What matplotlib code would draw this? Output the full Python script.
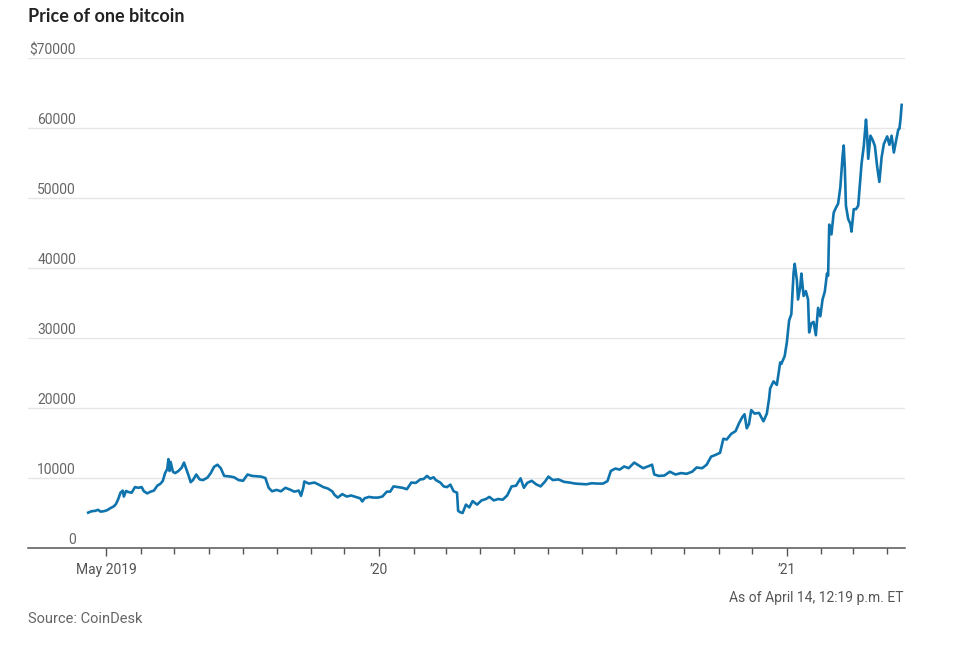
import matplotlib
matplotlib.use("Agg")
import matplotlib.pyplot as plt
import matplotlib.dates as mdates
import matplotlib.transforms as mtransforms
import numpy as np
import pandas as pd

dates = [
    "2019-04-15", "2019-04-18", "2019-04-21", "2019-04-24", "2019-04-26", "2019-04-29",
    "2019-05-02", "2019-05-05", "2019-05-08", "2019-05-10", "2019-05-12", "2019-05-14",
    "2019-05-16", "2019-05-17", "2019-05-19", "2019-05-21", "2019-05-24", "2019-05-27",
    "2019-05-30", "2019-06-02", "2019-06-04", "2019-06-07", "2019-06-10", "2019-06-13",
    "2019-06-16", "2019-06-19", "2019-06-21", "2019-06-23", "2019-06-25", "2019-06-26",
    "2019-06-27", "2019-06-28", "2019-06-30", "2019-07-02", "2019-07-05", "2019-07-08",
    "2019-07-10", "2019-07-12", "2019-07-14", "2019-07-16", "2019-07-18", "2019-07-21",
    "2019-07-24", "2019-07-27", "2019-07-31", "2019-08-03", "2019-08-06", "2019-08-09",
    "2019-08-12", "2019-08-15", "2019-08-18", "2019-08-21", "2019-08-24", "2019-08-28",
    "2019-09-01", "2019-09-05", "2019-09-09", "2019-09-13", "2019-09-17", "2019-09-21",
    "2019-09-24", "2019-09-27", "2019-10-01", "2019-10-05", "2019-10-09", "2019-10-13",
    "2019-10-17", "2019-10-21", "2019-10-23", "2019-10-25", "2019-10-26", "2019-10-30",
    "2019-11-04", "2019-11-08", "2019-11-12", "2019-11-16", "2019-11-20", "2019-11-22",
    "2019-11-25", "2019-11-29", "2019-12-03", "2019-12-07", "2019-12-11", "2019-12-15",
    "2019-12-17", "2019-12-19", "2019-12-23", "2019-12-27", "2019-12-31",
    "2020-01-04", "2020-01-08", "2020-01-11", "2020-01-14", "2020-01-18", "2020-01-22",
    "2020-01-26", "2020-01-30", "2020-02-03", "2020-02-07", "2020-02-10", "2020-02-13",
    "2020-02-16", "2020-02-19", "2020-02-21", "2020-02-25", "2020-02-28", "2020-03-02",
    "2020-03-05", "2020-03-08", "2020-03-11", "2020-03-12", "2020-03-14", "2020-03-16",
    "2020-03-19", "2020-03-22", "2020-03-25", "2020-03-29", "2020-04-02", "2020-04-06",
    "2020-04-09", "2020-04-13", "2020-04-17", "2020-04-21", "2020-04-25", "2020-04-29",
    "2020-05-03", "2020-05-07", "2020-05-10", "2020-05-13", "2020-05-17", "2020-05-21",
    "2020-05-25", "2020-05-29", "2020-06-01", "2020-06-05", "2020-06-10", "2020-06-15",
    "2020-06-20", "2020-06-25", "2020-06-30", "2020-07-05", "2020-07-10", "2020-07-15",
    "2020-07-20", "2020-07-24", "2020-07-27", "2020-07-31", "2020-08-04", "2020-08-08",
    "2020-08-12", "2020-08-17", "2020-08-21", "2020-08-25", "2020-08-30", "2020-09-02",
    "2020-09-04", "2020-09-08", "2020-09-13", "2020-09-18", "2020-09-23", "2020-09-28",
    "2020-10-03", "2020-10-08", "2020-10-12", "2020-10-17", "2020-10-21", "2020-10-25",
    "2020-10-29", "2020-11-02", "2020-11-05", "2020-11-08", "2020-11-12", "2020-11-16",
    "2020-11-19", "2020-11-22", "2020-11-24", "2020-11-26", "2020-11-28", "2020-11-30",
    "2020-12-03", "2020-12-07", "2020-12-11", "2020-12-14", "2020-12-16", "2020-12-17",
    "2020-12-20", "2020-12-23", "2020-12-26", "2020-12-27", "2020-12-30",
    "2021-01-01", "2021-01-03", "2021-01-05", "2021-01-07", "2021-01-08", "2021-01-10",
    "2021-01-11", "2021-01-13", "2021-01-14", "2021-01-16", "2021-01-18", "2021-01-20",
    "2021-01-21", "2021-01-23", "2021-01-25", "2021-01-27", "2021-01-29", "2021-01-31",
    "2021-02-02", "2021-02-04", "2021-02-06", "2021-02-07", "2021-02-08", "2021-02-10",
    "2021-02-12", "2021-02-14", "2021-02-16", "2021-02-18", "2021-02-20", "2021-02-21",
    "2021-02-22", "2021-02-23", "2021-02-25", "2021-02-27", "2021-02-28", "2021-03-02",
    "2021-03-04", "2021-03-06", "2021-03-09", "2021-03-11", "2021-03-13", "2021-03-14",
    "2021-03-15", "2021-03-17", "2021-03-19", "2021-03-21", "2021-03-23", "2021-03-25",
    "2021-03-27", "2021-03-29", "2021-04-01", "2021-04-03", "2021-04-05", "2021-04-07",
    "2021-04-09", "2021-04-11", "2021-04-12", "2021-04-13", "2021-04-14",
]
prices = [
    5050, 5250, 5300, 5450, 5200, 5250,
    5400, 5700, 5950, 6300, 7000, 7900,
    8200, 7350, 8150, 8000, 7900, 8700,
    8600, 8700, 8100, 7800, 8050, 8200,
    8900, 9200, 9600, 10700, 11300, 12700,
    11000, 12300, 10900, 10700, 11000, 11500,
    12200, 11300, 10400, 9400, 9700, 10500,
    9800, 9700, 10050, 10700, 11600, 11900,
    11400, 10300, 10250, 10200, 10100, 9700,
    9600, 10500, 10300, 10250, 10200, 10000,
    8600, 8100, 8300, 8100, 8600, 8350,
    8050, 8200, 7450, 8600, 9500, 9200,
    9350, 9050, 8700, 8500, 8100, 7600,
    7200, 7700, 7350, 7500, 7300, 7100,
    6650, 7100, 7300, 7200, 7200,
    7350, 8050, 8050, 8800, 8700, 8600,
    8400, 9350, 9300, 9800, 9850, 10300,
    9900, 10100, 9700, 9350, 8800, 8700,
    9050, 8100, 7900, 5300, 5100, 5000,
    6200, 5800, 6700, 6200, 6800, 7000,
    7300, 6800, 7000, 6900, 7500, 8800,
    8900, 9950, 8600, 9300, 9600, 9100,
    8800, 9500, 10200, 9700, 9800, 9450,
    9350, 9200, 9150, 9100, 9250, 9200,
    9200, 9550, 11000, 11350, 11200, 11650,
    11400, 12200, 11800, 11400, 11700, 11900,
    10500, 10300, 10350, 10900, 10500, 10700,
    10600, 10900, 11500, 11400, 11900, 13050,
    13300, 13600, 15600, 15500, 16300, 16700,
    17800, 18700, 19100, 17100, 17700, 19700,
    19200, 19300, 18100, 19200, 21300, 22800,
    23800, 23300, 26500, 26300, 27400,
    29400, 32500, 33400, 39300, 40600, 38200,
    35500, 37300, 39200, 36000, 36700, 35500,
    30800, 32100, 32300, 30400, 34300, 33100,
    35500, 36600, 39200, 38900, 46200, 44800,
    47900, 48600, 49200, 51600, 56000, 57500,
    54200, 48900, 47000, 46300, 45200, 48400,
    48400, 48900, 54900, 57400, 61200, 59000,
    55600, 58900, 58300, 57400, 54500, 52300,
    55800, 57700, 58800, 57600, 58900, 56500,
    58200, 59800, 59900, 61300, 63300,
]

y_ticks = [0, 10000, 20000, 30000, 40000, 50000, 60000, 70000]
y_tick_labels = ["0", "10000", "20000", "30000", "40000", "50000", "60000", "$70000"]
x_major = ["2019-05-01", "2020-01-01", "2021-01-01"]
x_major_labels = ["May 2019", "\u201920", "\u201921"]

title = "Price of one bitcoin"
note = "As of April 14, 12:19 p.m. ET"
source = "Source: CoinDesk"

font_ticks = ["Roboto", "DejaVu Sans"]
font_title = ["Lato", "DejaVu Sans"]

x = pd.to_datetime(dates)
xnum = mdates.date2num(x)

fig = plt.figure(figsize=(9.63, 6.5), dpi=100)
ax = fig.add_axes([28/963, 1 - 548/650, (905 - 28)/963, (548 - 58)/650])

ax.plot(xnum, prices, color="#0f74ad", lw=1.9, solid_joinstyle="round", zorder=3)

ax.set_ylim(0, 70000)
ax.set_xlim(mdates.date2num(pd.Timestamp("2019-02-20")), mdates.date2num(pd.Timestamp("2021-04-17")))

# gridlines
for v in y_ticks[1:]:
    ax.axhline(v, color="#e6e6e6", lw=1.0, zorder=1)

for s in ["top", "right", "left"]:
    ax.spines[s].set_visible(False)
ax.spines["bottom"].set_color("#555555")
ax.spines["bottom"].set_linewidth(1.1)
ax.set_yticks([])

# y labels right-aligned above gridlines
trans = mtransforms.blended_transform_factory(fig.transFigure, ax.transData)
for v, lab in zip(y_ticks, y_tick_labels):
    ax.text(76/963, v, lab, transform=trans + mtransforms.ScaledTranslation(0, 0.5/72, fig.dpi_scale_trans),
            ha="right", va="bottom", fontsize=10, color="#666666", family=font_ticks)

# x ticks
minor = pd.date_range("2019-05-01", "2021-04-01", freq="MS")
ax.set_xticks(mdates.date2num(minor), minor=True)
ax.set_xticks(mdates.date2num(pd.to_datetime(x_major)))
ax.set_xticklabels(x_major_labels, family=font_ticks, fontsize=10, color="#555555")
ax.tick_params(axis="x", which="major", length=6, width=1, color="#555555", pad=5)
ax.tick_params(axis="x", which="minor", length=4, width=1, color="#555555")

fig.text(28/963, 1 - 16/650, title, ha="left", va="center", fontsize=13, fontweight="bold",
         color="#222222", family=font_title)
fig.text(903/963, 1 - 598/650, note, ha="right", va="center", fontsize=10, color="#555555",
         family=font_ticks)
fig.text(28/963, 1 - 619/650, source, ha="left", va="center", fontsize=10.5, color="#666666",
         family=font_ticks)

fig.savefig("out.png", dpi=100)
